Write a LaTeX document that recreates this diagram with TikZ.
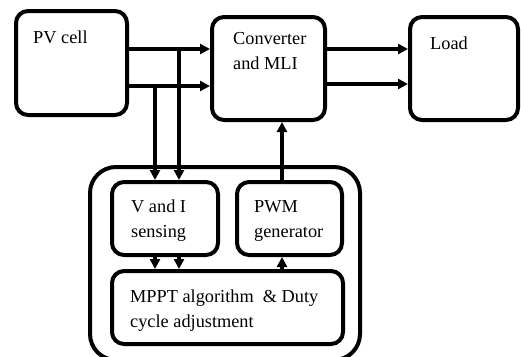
\documentclass[tikz,border=0pt]{standalone}
\usepackage{fontspec}
\setmainfont{Liberation Serif}
\usetikzlibrary{arrows.meta}
\begin{document}
\begin{tikzpicture}[
            x=1pt, y=-1pt,
            box/.style={draw, line width=4pt, rounded corners=12pt, inner sep=0pt},
            txt/.style={anchor=base west, inner sep=0pt, align=left, font=\fontsize{18.3}{24.5}\selectfont},
            arr/.style={line width=3.8pt, -{Triangle[length=10pt,width=10pt]}},
            ]
        \useasboundingbox (0,0) rectangle (521,356);
        \node[box, minimum width=111pt, minimum height=104pt] (pv) at (71.5,63) {};
        \node[box, minimum width=113pt, minimum height=103pt] (conv) at (268.5,68.5) {};
        \node[box, minimum width=108pt, minimum height=103pt] (load) at (464,68.5) {};
        \node[box, rounded corners=26pt, minimum width=270pt, minimum height=193pt] (ctrl) at (225,263.5) {};
        \node[box, minimum width=106pt, minimum height=73pt] (sense) at (165,218.5) {};
        \node[box, minimum width=105pt, minimum height=73pt] (pwm) at (289.5,218.5) {};
        \node[box, minimum width=231pt, minimum height=73pt] (mppt) at (227.5,307.5) {};

        \node[txt] (pvtxt) at (33,43) {PV cell};
        \node[txt] (convtxt) at (233,69) {Converter\\and MLI};
        \node[txt] (loadtxt) at (430,49) {Load};
        \node[txt] (sensetxt) at (131,237) {V and I\\sensing};
        \node[txt] (pwmtxt) at (254,237) {PWM\\generator};
        \node[txt] (mppttxt) at (130,327) {MPPT algorithm \ \& Duty\\cycle adjustment};

        \coordinate (j1) at (179,49);
        \coordinate (j2) at (155,86);
        \coordinate (j3) at (282,0);
        \coordinate (r4) at (0,84);

        \draw[arr] (pv.east |- j1) -- (conv.west |- j1);
        \draw[arr] (pv.east |- j2) -- (conv.west |- j2);
        \draw[arr] (j1) -- (j1 |- sense.north);
        \draw[arr] (j2) -- (j2 |- sense.north);
        \draw[arr] (j1 |- sense.south) -- (j1 |- mppt.north);
        \draw[arr] (j2 |- sense.south) -- (j2 |- mppt.north);
        \draw[arr] (j3 |- mppt.north) -- (j3 |- pwm.south);
        \draw[arr] (j3 |- pwm.north) -- (j3 |- conv.south);
        \draw[arr] (conv.east |- j1) -- (load.west |- j1);
        \draw[arr] (conv.east |- r4) -- (load.west |- r4);
\end{tikzpicture}
\end{document}
